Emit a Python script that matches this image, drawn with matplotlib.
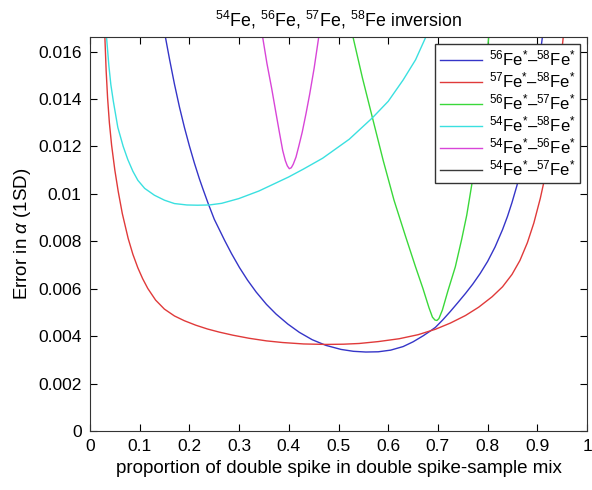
"""Error in alpha against double spike proportion for the Fe spike pairs."""

import matplotlib

matplotlib.use("Agg")
import matplotlib.pyplot as plt
from matplotlib.ticker import FormatStrFormatter

plt.rcParams["font.family"] = ["Liberation Sans", "DejaVu Sans"]
plt.rcParams["mathtext.fontset"] = "custom"
plt.rcParams["mathtext.rm"] = "Liberation Sans"
plt.rcParams["mathtext.it"] = "Liberation Sans:italic"

# values
fe56_58_x = [0.152, 0.160, 0.170, 0.180, 0.190, 0.200, 0.210, 0.220, 0.2273, 0.2373,
             0.250, 0.2708, 0.285, 0.3008, 0.317, 0.3343, 0.355, 0.3744, 0.398, 0.4212,
             0.447, 0.4747, 0.505, 0.530, 0.555, 0.580, 0.605, 0.630, 0.650, 0.670,
             0.685, 0.695, 0.710, 0.725, 0.740, 0.7555, 0.770, 0.785, 0.800, 0.815,
             0.830, 0.840, 0.849, 0.859, 0.870, 0.880, 0.890, 0.900, 0.908, 0.910]
fe56_58_y = [0.01658, 0.01568, 0.01462, 0.01366, 0.0128, 0.01202, 0.0113, 0.01064, 0.0102, 0.00962,
             0.00893, 0.00804, 0.00747, 0.00689, 0.00636, 0.00586, 0.00534, 0.00493, 0.00451, 0.00416,
             0.00385, 0.00361, 0.00344, 0.00336, 0.00333, 0.00334, 0.00341, 0.00356, 0.00376, 0.00401,
             0.00422, 0.00437, 0.00469, 0.00504, 0.00541, 0.0058, 0.00619, 0.00664, 0.00715, 0.00776,
             0.00849, 0.00905, 0.00963, 0.01035, 0.0113, 0.0123, 0.01349, 0.01493, 0.01625, 0.01658]

fe57_58_x = [0.030, 0.0325, 0.0354, 0.0390, 0.0435, 0.0500, 0.0568, 0.0650, 0.0768, 0.0863,
             0.0963, 0.1060, 0.1163, 0.1320, 0.1497, 0.1700, 0.1898, 0.2130, 0.2365, 0.2600,
             0.2874, 0.3200, 0.3550, 0.3877, 0.4300, 0.4747, 0.5100, 0.5415, 0.5800, 0.6220,
             0.6600, 0.6950, 0.7250, 0.7555, 0.7820, 0.8090, 0.8300, 0.8490, 0.8650, 0.8800,
             0.8930, 0.9060, 0.9125, 0.9200, 0.9300, 0.9400, 0.9480, 0.9520]
fe57_58_y = [0.01658, 0.0152, 0.01405, 0.0130, 0.01205, 0.0110, 0.0101, 0.00917, 0.00812, 0.00745,
             0.00688, 0.00642, 0.00601, 0.00552, 0.00514, 0.00485, 0.00465, 0.00446, 0.0043, 0.00417,
             0.00404, 0.00391, 0.0038, 0.00373, 0.00367, 0.00365, 0.00366, 0.00369, 0.00377, 0.00389,
             0.00406, 0.00429, 0.00455, 0.00487, 0.00522, 0.00566, 0.00608, 0.0066, 0.00719, 0.00794,
             0.00877, 0.00981, 0.01043, 0.01126, 0.01256, 0.01416, 0.01576, 0.01658]

fe56_57_x = [0.5295, 0.548, 0.568, 0.590, 0.6117, 0.635, 0.655, 0.670, 0.682, 0.689,
             0.694, 0.698, 0.702, 0.709, 0.720, 0.735, 0.748, 0.758, 0.769, 0.780,
             0.791, 0.802]
fe56_57_y = [0.01658, 0.0149, 0.01323, 0.0114, 0.00973, 0.0082, 0.00692, 0.0060, 0.0052, 0.0048,
             0.00468, 0.00466, 0.00474, 0.0051, 0.0059, 0.00692, 0.0081, 0.0091, 0.0105, 0.0121,
             0.0140, 0.01658]

fe54_58_x = [0.0334, 0.038, 0.042, 0.047, 0.056, 0.0668, 0.076, 0.0863, 0.0963, 0.110,
             0.1297, 0.150, 0.1698, 0.195, 0.2166, 0.240, 0.265, 0.2995, 0.340, 0.3997,
             0.430, 0.468, 0.5215, 0.568, 0.600, 0.630, 0.655, 0.675]
fe54_58_y = [0.01658, 0.0154, 0.0146, 0.0139, 0.0128, 0.0120, 0.01145, 0.01095, 0.01057, 0.01023,
             0.00994, 0.00973, 0.00959, 0.00953, 0.00952, 0.00953, 0.0096, 0.0098, 0.01012, 0.01071,
             0.01105, 0.0115, 0.0123, 0.0132, 0.0139, 0.0148, 0.01565, 0.01658]

fe54_56_x = [0.3476, 0.356, 0.3655, 0.3744, 0.381, 0.3877, 0.393, 0.397, 0.401, 0.405,
             0.409, 0.4145, 0.420, 0.427, 0.4346, 0.442, 0.451, 0.460]
fe54_56_y = [0.01658, 0.0155, 0.01445, 0.01338, 0.0126, 0.01183, 0.0114, 0.01118, 0.01106, 0.0111,
             0.01125, 0.01155, 0.0120, 0.0126, 0.01338, 0.0142, 0.0153, 0.01658]

# 54Fe-57Fe stays off the scale, only its legend entry shows
fe54_57_x = []
fe54_57_y = []

x_ticks = [0, 0.1, 0.2, 0.3, 0.4, 0.5, 0.6, 0.7, 0.8, 0.9, 1]
y_ticks = [0, 0.002, 0.004, 0.006, 0.008, 0.01, 0.012, 0.014, 0.016]

fig = plt.figure(figsize=(5.92, 4.9), dpi=100)
ax = fig.add_axes([0.152, 0.1204, 0.8396, 0.8035])

ax.plot(fe56_58_x, fe56_58_y, color="#3535c8", lw=1.0,
        label=r"$^{56}$Fe$^{*}$–$^{58}$Fe$^{*}$")
ax.plot(fe57_58_x, fe57_58_y, color="#e03a3a", lw=1.0,
        label=r"$^{57}$Fe$^{*}$–$^{58}$Fe$^{*}$")
ax.plot(fe56_57_x, fe56_57_y, color="#3ad83a", lw=1.0,
        label=r"$^{56}$Fe$^{*}$–$^{57}$Fe$^{*}$")
ax.plot(fe54_58_x, fe54_58_y, color="#3ae0e0", lw=1.0,
        label=r"$^{54}$Fe$^{*}$–$^{58}$Fe$^{*}$")
ax.plot(fe54_56_x, fe54_56_y, color="#d845d8", lw=1.0,
        label=r"$^{54}$Fe$^{*}$–$^{56}$Fe$^{*}$")
ax.plot(fe54_57_x, fe54_57_y, color="#3a3a3a", lw=1.0,
        label=r"$^{54}$Fe$^{*}$–$^{57}$Fe$^{*}$")

ax.set_xlim(0, 1)
ax.set_ylim(0, 0.0166)
ax.set_xticks(x_ticks)
ax.set_yticks(y_ticks)
ax.xaxis.set_major_formatter(FormatStrFormatter("%g"))
ax.yaxis.set_major_formatter(FormatStrFormatter("%g"))
ax.tick_params(direction="in", top=True, right=True, length=5, labelsize=12.5, pad=6)
for spine in ax.spines.values():
    spine.set_color("#333333")

ax.set_title(r"$^{54}$Fe, $^{56}$Fe, $^{57}$Fe, $^{58}$Fe inversion", fontsize=12.8, pad=8)
ax.set_xlabel("proportion of double spike in double spike-sample mix", fontsize=13.5)
ax.set_ylabel(r"Error in $\alpha$ (1SD)", fontsize=13.5)

leg = ax.legend(loc="upper right", fontsize=12, handlelength=2.5, fancybox=False,
                framealpha=1, edgecolor="#333333", borderaxespad=0.4,
                labelspacing=0.12, borderpad=0.3, handletextpad=0.4)
leg.get_frame().set_linewidth(1.0)

fig.savefig("out.png", dpi=100)
